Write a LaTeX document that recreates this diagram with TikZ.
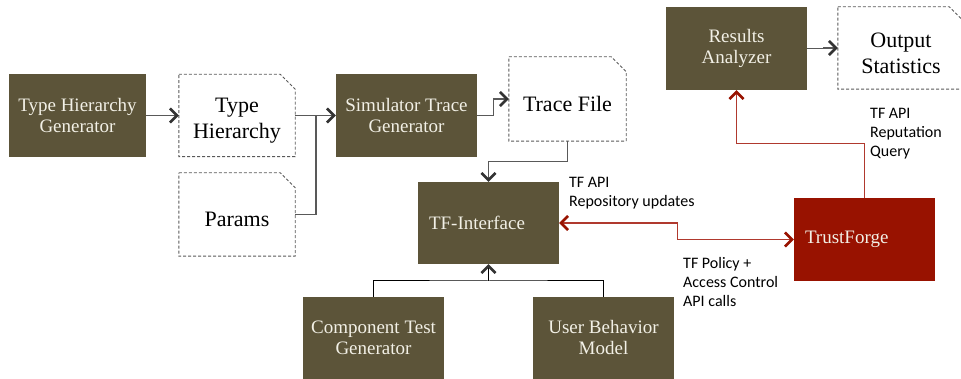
\documentclass[tikz,border=0pt]{standalone}
\usepackage{fontspec}
\setmainfont{Liberation Serif}
\newfontfamily\labelfont{Carlito}
\usetikzlibrary{arrows.meta}
\definecolor{boxbrown}{HTML}{5C5439}
\definecolor{forgered}{HTML}{981200}
\definecolor{linered}{HTML}{B0392E}
\definecolor{linegray}{HTML}{595959}
\definecolor{boxtext}{HTML}{F2F0E6}

\begin{document}
\begin{tikzpicture}[
	x=1pt, y=-1pt,
	block/.style={fill=boxbrown, text=boxtext, minimum width=141pt, minimum height=83pt,
		inner sep=0pt, align=center, font=\fontsize{19}{21}\selectfont},
	docfile/.style={minimum width=116pt, minimum height=82pt, inner sep=0pt},
	doctext/.style={align=center, yshift=-5pt, font=\fontsize{22}{26}\selectfont},
	docline/.style={linegray, line width=0.9pt, dash pattern=on 3pt off 2pt},
	note/.style={anchor=north west, inner sep=0pt, align=left, font=\labelfont\fontsize{16}{19}\selectfont},
	conn/.style={linegray, line width=1.2pt},
	busline/.style={black, line width=1pt},
	redconn/.style={linered, line width=1.2pt},
	arrowed/.style={-{Straight Barb[length=7pt,width=14pt,line width=2.6pt,color=black!80]}},
	redarrowed/.style={-{Straight Barb[length=7pt,width=14pt,line width=2.6pt,color=forgered]}},
	redboth/.style={{Straight Barb[length=7pt,width=14pt,line width=2.6pt,color=forgered]}-{Straight Barb[length=7pt,width=14pt,line width=2.6pt,color=forgered]}}
	]
	\useasboundingbox (0,0) rectangle (961,379);
	
	% generators and files
	\node[block, minimum width=137pt] (thgen) at (77.5,115.5) {Type Hierarchy\\Generator};
	\node[docfile, label={[doctext]center:{Type\\Hierarchy}}] (thier) at (237,115.5) {};
	\node[docfile, minimum height=83pt, label={[doctext]center:Params}] (params) at (237,214.5) {};
	\node[block] (simgen) at (406.5,115.5) {Simulator Trace\\Generator};
	\node[docfile, minimum width=117pt, minimum height=84pt, label={[doctext]center:Trace File}] (trace) at (567.5,99) {};
	\node[block, text width=119pt, align=left, minimum height=82pt] (tfint) at (488.5,223) {TF-Interface};
	\node[block] (results) at (736.5,48.5) {Results\\Analyzer};
	\node[docfile, minimum width=126pt, label={[doctext]center:{Output\\Statistics}}] (outstat) at (901,48) {};
	\node[block, fill=forgered, text width=119pt, align=left] (trustforge) at (864.5,239.5) {TrustForge};
	\node[block, minimum height=82pt] (ctgen) at (373.5,338) {Component Test\\Generator};
	\node[block, minimum height=82pt] (ubm) at (603.5,338) {User Behavior\\Model};
	
	% dashed file outlines with cut corner
	\foreach \d in {thier,params,trace,outstat}
		\draw[docline] (\d.north west) -- ([xshift=-15pt]\d.north east) -- ([yshift=-15pt]\d.north east)
			-- (\d.south east) -- (\d.south west) -- cycle;
	
	% labels
	\node[note] (lblrepo) at (569,177) {TF API\\Repository updates};
	\node[note] (lblpolicy) at (683,257) {TF Policy +\\Access Control\\API calls};
	\node[note] (lblquery) at (870,108) {TF API\\Reputation\\Query};
	
	% connectors
	\coordinate (merge) at (316,115.5);
	\coordinate (bus) at (488.5,281);
	\draw[conn, arrowed] (thgen.east) -- (thier.west);
	\draw[conn, arrowed] (thier.east) -- (simgen.west);
	\draw[conn] (params.east) -| (merge);
	\draw[conn, arrowed] (simgen.east) -- ++(16,0) |- (trace.west);
	\draw[conn, arrowed] (trace.south) -- ++(0,20) -| (tfint.north);
	\draw[busline] (ctgen.north) |- (bus) -| (ubm.north);
	\draw[busline, arrowed] (bus) -- (tfint.south);
	\draw[redconn, redboth] (tfint.east) -- ++(118,0) |- (trustforge.west);
	\draw[redconn, redarrowed] (trustforge.north) -- ++(0,-54) -| (results.south);
	\draw[conn, arrowed] (results.east) -- ++(16,0) |- (outstat.west);
\end{tikzpicture}
\end{document}
